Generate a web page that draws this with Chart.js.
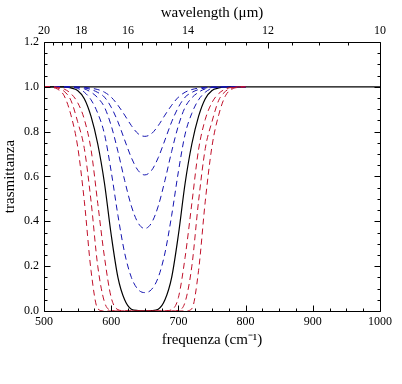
<!DOCTYPE html>
<html>
<head>
<meta charset="utf-8">
<script src="https://cdn.jsdelivr.net/npm/chart.js@4.4.0/dist/chart.umd.min.js"></script>
<style>
html,body{margin:0;padding:0;background:#fff;}
#wrap{width:402px;height:384px;position:relative;}
</style>
</head>
<body>
<div id="wrap"><canvas id="myChart"></canvas></div>
<script>
// frequency grid (cm^-1) for the curves
var freq=[500,510,520,530,540,550,560,570,580,590,600,610,620,630,640,650,660,670,680,690,700,710,720,730,740,750,760,770,780,790,800];

// blue dashed curves (weak absorption)
var blue1=[1,1,1,1,1,0.999,0.998,0.994,0.988,0.976,0.954,0.918,0.874,0.827,0.791,0.779,0.791,0.827,0.874,0.918,0.954,0.976,0.988,0.994,0.998,0.999,1,1,1,1,1];
var blue2=[1,1,1,1,0.999,0.998,0.995,0.988,0.975,0.954,0.909,0.844,0.763,0.684,0.627,0.607,0.627,0.684,0.763,0.844,0.909,0.954,0.975,0.988,0.995,0.998,0.999,1,1,1,1];
var blue3=[1,1,1,1,0.999,0.997,0.991,0.976,0.951,0.909,0.827,0.712,0.583,0.468,0.393,0.368,0.393,0.468,0.583,0.712,0.827,0.909,0.951,0.976,0.991,0.997,0.999,1,1,1,1];
var blue4=[1,1,1,1,0.998,0.993,0.976,0.942,0.882,0.789,0.622,0.427,0.259,0.150,0.096,0.082,0.096,0.150,0.259,0.427,0.622,0.789,0.882,0.942,0.976,0.993,0.998,1,1,1,1];

// black solid curve
var black=[1,1,1,1,0.995,0.984,0.947,0.868,0.745,0.57,0.34,0.15,0.05,0.008,0.002,0.001,0.002,0.008,0.05,0.15,0.34,0.57,0.745,0.868,0.947,0.984,0.995,1,1,1,1];

// red dashed curves (saturated)
var red1=[1,1,0.998,0.99,0.97,0.93,0.855,0.72,0.48,0.24,0.06,0.006,0.001,0,0,0,0,0,0.001,0.006,0.06,0.24,0.48,0.72,0.855,0.93,0.97,0.99,0.998,1,1];
var red2=[1,1,0.995,0.98,0.94,0.845,0.725,0.49,0.2,0.04,0.003,0,0,0,0,0,0,0,0,0,0.003,0.04,0.2,0.49,0.725,0.845,0.94,0.98,0.995,1,1];
var red3=[1,0.998,0.99,0.96,0.875,0.735,0.49,0.18,0.01,0,0,0,0,0,0,0,0,0,0,0,0,0,0.01,0.18,0.49,0.735,0.875,0.96,0.99,0.998,1];

// reference line at T = 1
var refFreq=[500,1000];
var refT=[1,1];

// tick labels
var freqTicks=[500,600,700,800,900,1000];
var wlTicks=[20,18,16,14,12,10];
var yTicks=[0,0.2,0.4,0.6,0.8,1.0,1.2];

var BLUE='#1414b0', RED='#c0102a';

function pts(xs,ys){
    return xs.map(function(x,i){return {x:x,y:ys[i]};});
}
function curve(vals,color,dashed,w){
    return {
        data:pts(freq,vals),
        borderColor:color,
        borderWidth:w||1,
        borderDash:dashed?[6,4]:[],
        pointRadius:0,
        cubicInterpolationMode:'monotone',
        fill:false
    };
}

// inward tick marks and frame
var tickMarks={
    id:'tickMarks',
    afterDraw:function(chart){
        var ctx=chart.ctx, a=chart.chartArea;
        var xs=chart.scales.x, ys=chart.scales.y;
        var L=Math.round(a.left)+0.5, R=Math.round(a.right)+0.5;
        var T=Math.round(a.top)+0.5, B=Math.round(a.bottom)+0.5;
        ctx.save();
        ctx.strokeStyle='#000';
        ctx.lineWidth=1;
        ctx.beginPath();
        ctx.rect(L,T,R-L,B-T);
        // bottom: frequency
        for(var v=500;v<=1000;v+=25){
            var px=Math.round(xs.getPixelForValue(v))+0.5;
            var len=(v%100===0)?6:3;
            ctx.moveTo(px,B); ctx.lineTo(px,B-len);
        }
        // top: wavelength
        for(var l=20;l>=10;l-=0.5){
            var px2=Math.round(xs.getPixelForValue(10000/l))+0.5;
            var len2=(l%2===0)?6:3;
            ctx.moveTo(px2,T); ctx.lineTo(px2,T+len2);
        }
        // left and right
        for(var k=0;k<=24;k++){
            var py=Math.round(ys.getPixelForValue(k*0.05))+0.5;
            var len3=(k%4===0)?6:3;
            ctx.moveTo(L,py); ctx.lineTo(L+len3,py);
            ctx.moveTo(R,py); ctx.lineTo(R-len3,py);
        }
        ctx.stroke();
        ctx.restore();
    }
};

Chart.defaults.font.family="'Liberation Serif','Times New Roman',serif";
Chart.defaults.color='#000';

var datasets=[
    curve(red3,RED,true),
    curve(red2,RED,true),
    curve(red1,RED,true),
    curve(blue1,BLUE,true),
    curve(blue2,BLUE,true),
    curve(blue3,BLUE,true),
    curve(blue4,BLUE,true),
    curve(black,'#000',false,1.2),
    {data:pts(refFreq,refT),borderColor:'#000',borderWidth:1.2,pointRadius:0,fill:false}
];

var graph=new Chart(document.getElementById('myChart'),{
    type:'line',
    data:{datasets:datasets},
    plugins:[tickMarks],
    options:{
        responsive:true,
        maintainAspectRatio:false,
        animation:false,
        layout:{padding:{right:22}},
        plugins:{legend:{display:false},tooltip:{enabled:false}},
        scales:{
            x:{
                type:'linear',position:'bottom',min:500,max:1000,
                grid:{display:false,drawTicks:false},border:{display:false},
                afterBuildTicks:function(s){s.ticks=freqTicks.map(function(v){return {value:v};});},
                ticks:{autoSkip:false,maxRotation:0,padding:4,font:{size:12},
                    callback:function(v){return String(v);}},
                title:{display:true,text:'frequenza (cm\u207B\u00B9)',font:{size:15},padding:{top:0,bottom:35}},
                afterFit:function(s){s.height=73;}
            },
            x2:{
                type:'linear',position:'top',min:500,max:1000,
                grid:{display:false,drawTicks:false},border:{display:false},
                afterBuildTicks:function(s){s.ticks=wlTicks.map(function(l){return {value:10000/l};});},
                ticks:{autoSkip:false,maxRotation:0,padding:4,font:{size:12},
                    callback:function(v){return String(Math.round(10000/v));}},
                title:{display:true,text:'wavelength (\u03BCm)',font:{size:15},padding:{top:4,bottom:0}},
                afterFit:function(s){s.height=42;}
            },
            y:{
                type:'linear',min:0,max:1.2,
                grid:{display:false,drawTicks:false},border:{display:false},
                afterBuildTicks:function(s){s.ticks=yTicks.map(function(v){return {value:v};});},
                ticks:{autoSkip:false,padding:5,font:{size:12},
                    callback:function(v){return v.toFixed(1);}},
                title:{display:true,text:'trasmittanza',font:{size:15},padding:{top:1,bottom:0}},
                afterFit:function(s){s.width=44;}
            }
        }
    }
});
</script>
</body>
</html>
